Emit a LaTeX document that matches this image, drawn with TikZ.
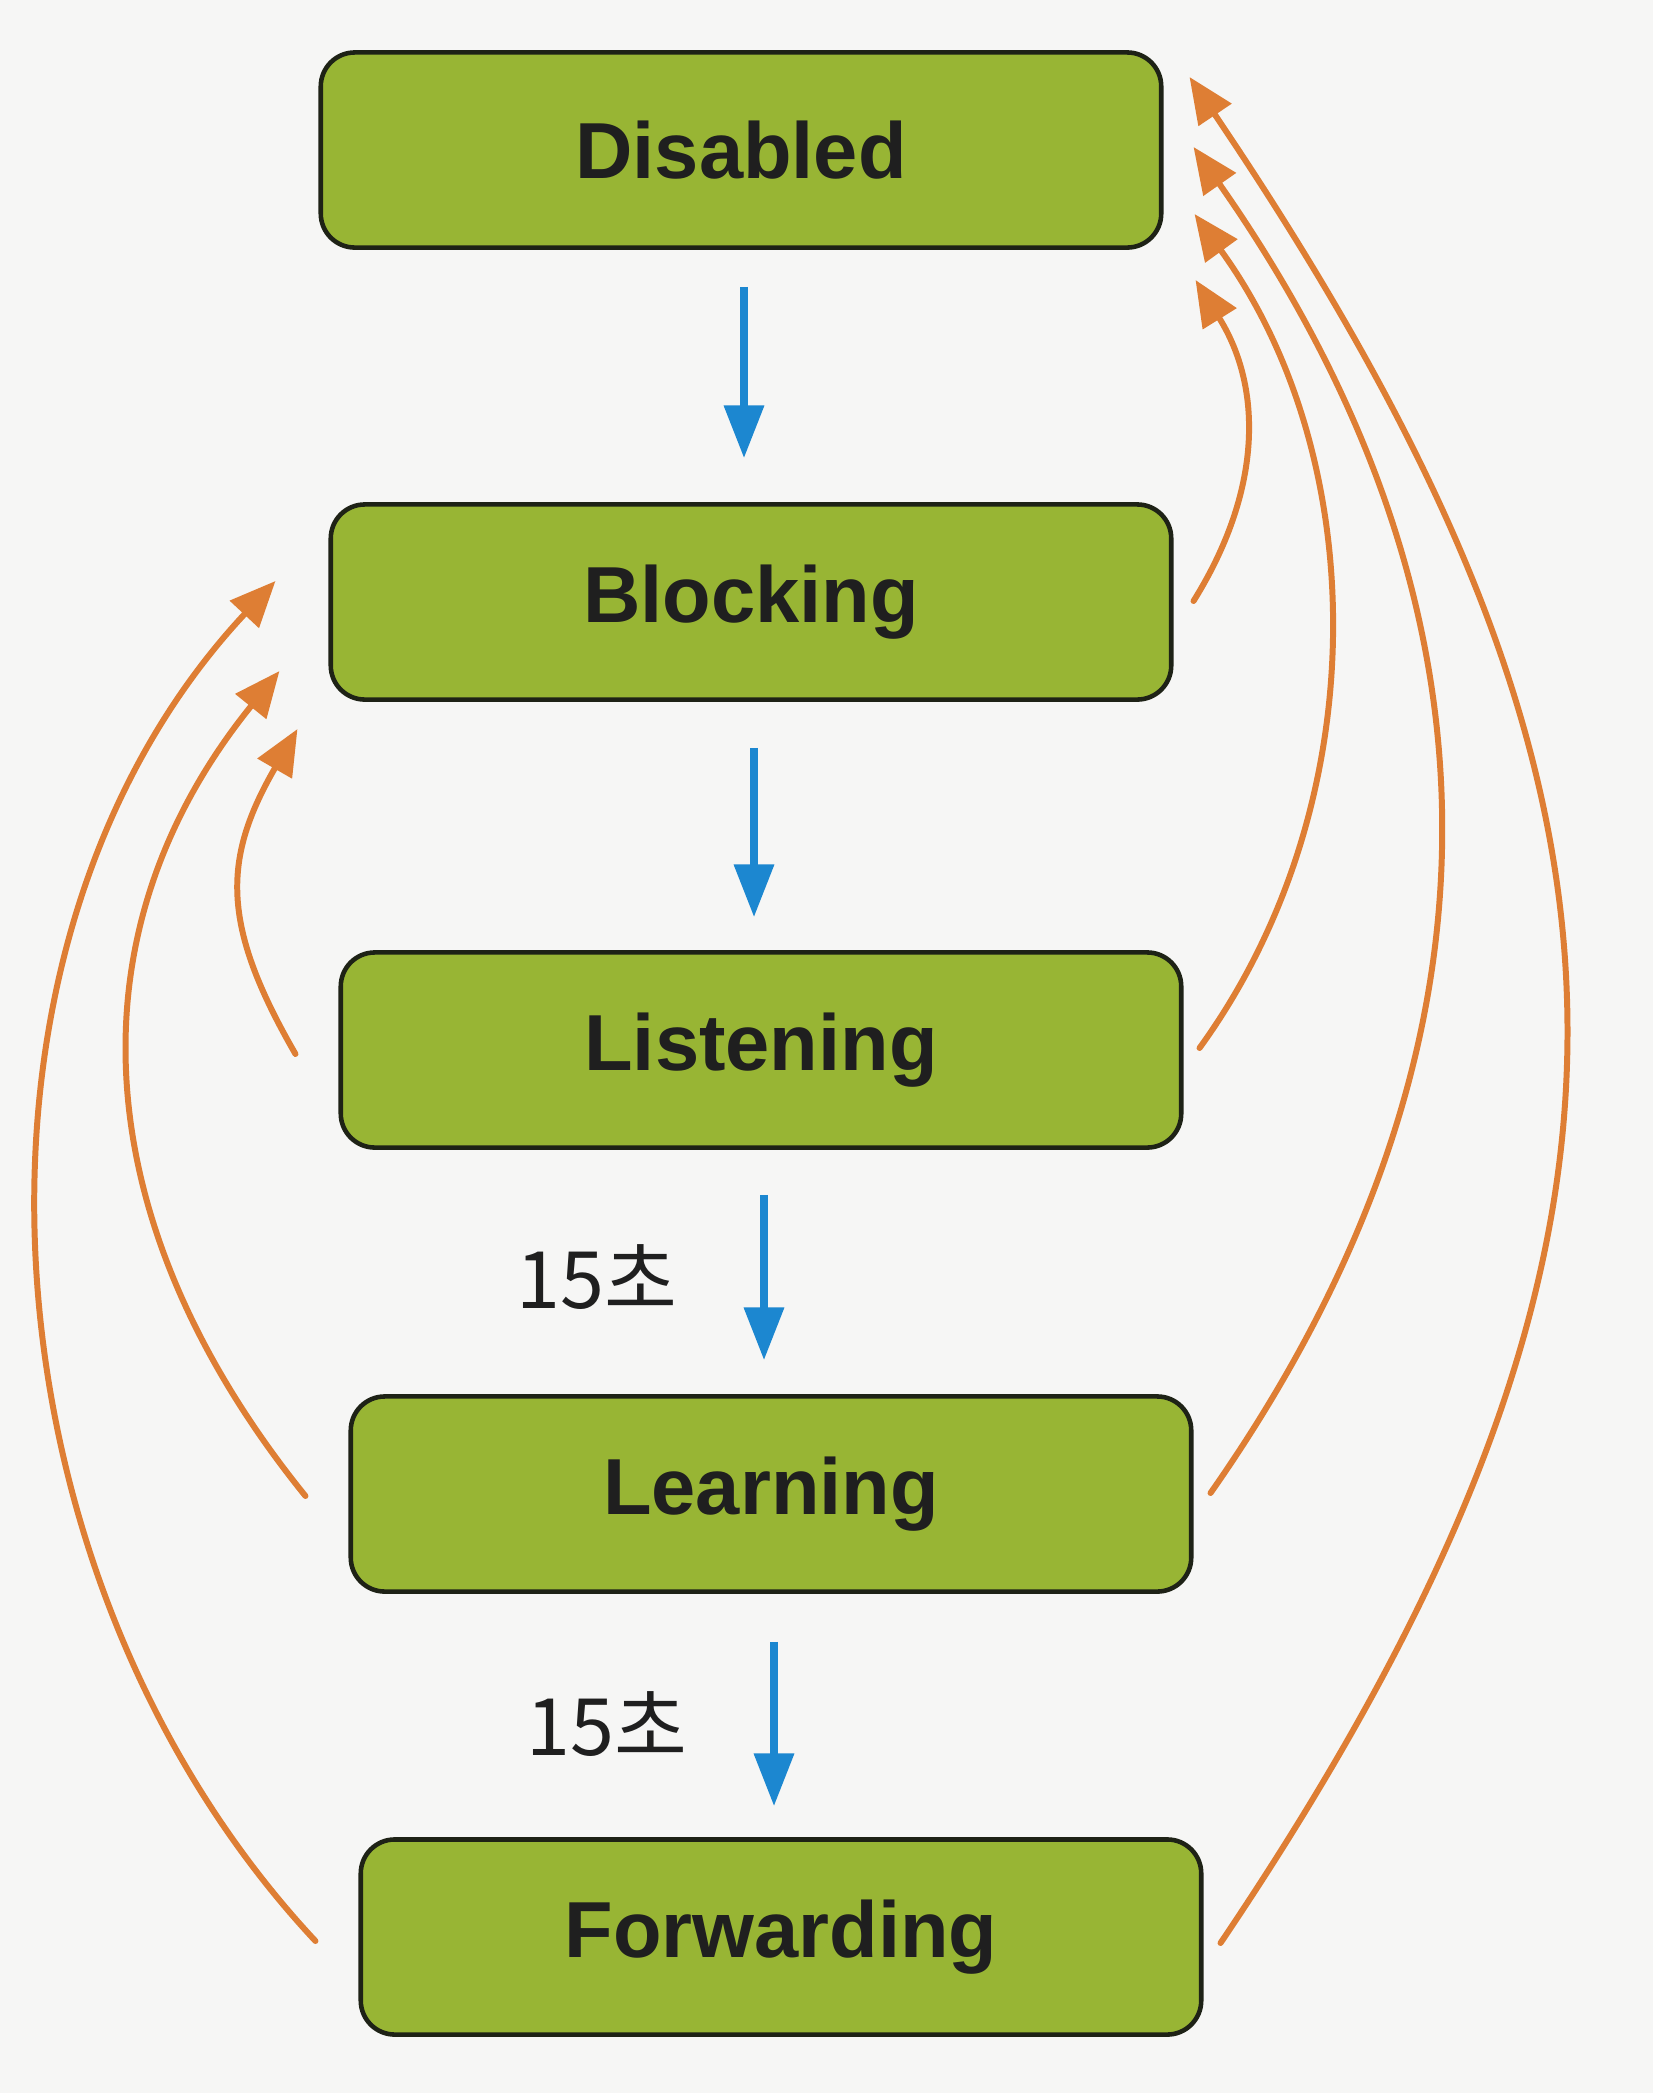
\documentclass[tikz,border=0pt]{standalone}
\usepackage{fontspec}
\setmainfont{Liberation Sans}
\newfontfamily\kor{Noto Sans CJK KR}
\usetikzlibrary{arrows.meta,calc}
\definecolor{boxgreen}{RGB}{152,181,52}
\definecolor{boxline}{RGB}{30,34,22}
\definecolor{stepblue}{RGB}{28,135,208}
\definecolor{backorange}{RGB}{222,126,52}
\definecolor{paper}{RGB}{246,246,245}

\begin{document}
\begin{tikzpicture}[x=0.01cm,y=-0.01cm,
    state node/.style={draw=boxline,fill=boxgreen,line width=1.3pt,rounded corners=0.34cm,minimum width=8.4cm,minimum height=1.95cm,inner sep=0pt,text=black!88,font=\bfseries\fontsize{22.6}{27}\selectfont},
    down arrow/.style={-{Triangle[length=15pt,width=11pt]},line width=2.2pt,draw=stepblue},
    back arrow/.style={-{Triangle[length=13pt,width=11pt]},line width=1.7pt,line cap=round,draw=backorange},
    time/.style={text=black!88,font=\kor\fontsize{22.5}{26}\selectfont}]
        \useasboundingbox (0,0) rectangle (1653,2093);
        \fill[paper] (0,0) rectangle (1653,2093);

        \node[state node] (1) at (741,150) {Disabled};
        \node[state node] (2) at (751,602) {Blocking};
        \node[state node] (3) at (761,1050) {Listening};
        \node[state node] (4) at (771,1494) {Learning};
        \node[state node] (5) at (781,1937) {Forwarding};

        % forward steps
        \draw[down arrow] ($(1.south)+(3,37)$) -- ($(2.north)+(-7,-44)$);
        \draw[down arrow] ($(2.south)+(3,46)$) -- ($(3.north)+(-7,-33)$);
        \draw[down arrow] ($(3.south)+(3,45)$) -- ($(4.north)+(-7,-34)$) node[time,midway,left=0.71cm] (t1) {15초};
        \draw[down arrow] ($(4.south)+(3,48)$) -- ($(5.north)+(-7,-31)$) node[time,midway,left=0.71cm] (t2) {15초};

        % back to Disabled
        \draw[back arrow] ($(2.east)+(20,-1)$) .. controls +(68,-109) and +(68,109) .. ($(1.east)+(32,130)$);
        \draw[back arrow] ($(3.east)+(16,-2)$) .. controls +(177,-244) and +(177,244) .. ($(1.east)+(31,64)$);
        \draw[back arrow] ($(4.east)+(17,-1)$) .. controls +(316,-451) and +(316,451) .. ($(1.east)+(30,-3)$);
        \draw[back arrow] ($(5.east)+(17,6)$) .. controls +(479,-710) and +(479,710) .. ($(1.east)+(26,-73)$);

        % back to Blocking
        \draw[back arrow] ($(3.west)+(-43,4)$) .. controls +(-75,-130) and +(-75,130) .. ($(2.west)+(-31,127)$);
        \draw[back arrow] ($(4.west)+(-43,2)$) .. controls +(-216,-267) and +(-216,267) .. ($(2.west)+(-49,69)$);
        \draw[back arrow] ($(5.west)+(-43,4)$) .. controls +(-341,-365) and +(-341,365) .. ($(2.west)+(-53,-21)$);
\end{tikzpicture}
\end{document}
